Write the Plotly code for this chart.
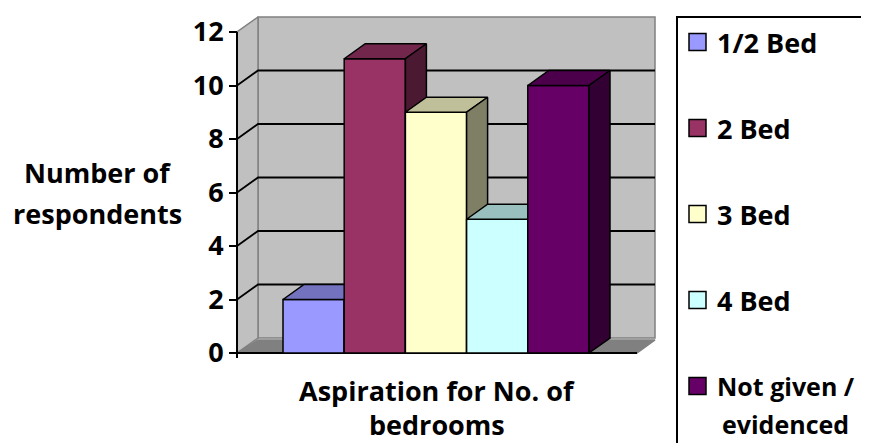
import plotly.graph_objects as go

# ---- data ----
series = ["1/2 Bed", "2 Bed", "3 Bed", "4 Bed", "Not given /<br>evidenced"]
legend_lines = [["1/2 Bed"], ["2 Bed"], ["3 Bed"], ["4 Bed"], ["Not given /", "evidenced"]]
values = [2, 11, 9, 5, 10]
colors = ["#9999FF", "#993366", "#FFFFCC", "#CCFFFF", "#660066"]
y_ticks = [0, 2, 4, 6, 8, 10, 12]
x_title = ["Aspiration for No. of", "bedrooms"]
y_title = ["Number of", "respondents"]

# ---- geometry ----
VW, VH, OFF = 869, 443, 8                 # viewport and body margin
W, H = VW - OFF, VH - OFF
PL, PR, PT, PB = 200, 660, 10, 362       # plot area in viewport pixels
BAR0_C, BAR_W = 313.6, 61.2              # bar 0 centre px, px per bar
Y0, Y_UNIT = 353.0, 26.75                 # px of value 0, px per unit
def dx_px(p): return p / BAR_W
def dy_px(p): return p / Y_UNIT
X_RANGE = [(PL - BAR0_C) / BAR_W, (PR - BAR0_C) / BAR_W]
Y_RANGE = [(Y0 - PB) / Y_UNIT, (Y0 - PT) / Y_UNIT]
DX, DY = dx_px(21), dy_px(15)
X_FRONT_L = (237 - BAR0_C) / BAR_W
X_FRONT_R = (637 - BAR0_C) / BAR_W
X_BACK_L = X_FRONT_L + DX
X_BACK_R = (655 - BAR0_C) / BAR_W
YMAX = y_ticks[-1]

def shade(hexc, f):
    h = hexc.lstrip("#")
    r, g, b = int(h[0:2], 16), int(h[2:4], 16), int(h[4:6], 16)
    return "#%02X%02X%02X" % (int(r * f), int(g * f), int(b * f))

def poly(xs, ys, fill, line="black", lw=1.5):
    return go.Scatter(x=xs + [xs[0]], y=ys + [ys[0]], mode="lines", fill="toself",
                      fillcolor=fill, line=dict(color=line, width=lw),
                      hoverinfo="skip", showlegend=False)

def seg(xs, ys, color="black", lw=1.5):
    return go.Scatter(x=xs, y=ys, mode="lines", line=dict(color=color, width=lw),
                      hoverinfo="skip", showlegend=False)

fig = go.Figure()
WALL, EDGE, FLOOR = "#C0C0C0", "#808080", "#808080"

# back wall
fig.add_trace(poly([X_BACK_L, X_BACK_R, X_BACK_R, X_BACK_L],
                   [DY, DY, YMAX + DY, YMAX + DY], WALL, EDGE, 1.5))
# left wall
fig.add_trace(poly([X_FRONT_L, X_BACK_L, X_BACK_L, X_FRONT_L],
                   [0, DY, YMAX + DY, YMAX], WALL, EDGE, 1.5))
# floor
fig.add_trace(poly([X_FRONT_L, X_FRONT_R, X_BACK_R, X_BACK_L],
                   [0, 0, dy_px(13), dy_px(13)], FLOOR, EDGE, 1.5))
# gridlines
for v in y_ticks[1:-1]:
    fig.add_trace(seg([X_FRONT_L, X_BACK_L, X_BACK_R], [v, v + DY, v + DY], "black", 1.8))

# floor front edge
fig.add_trace(seg([X_FRONT_L, X_FRONT_R], [0, 0], "black", 2))

# bars
for i, (v, c) in enumerate(zip(values, colors)):
    l, r = i - 0.5, i + 0.5
    fig.add_trace(poly([l, r, r, l], [0, 0, v, v], c))
    fig.add_trace(poly([l, r, r + DX, l + DX], [v, v, v + DY, v + DY], shade(c, 0.75)))
    fig.add_trace(poly([r, r + DX, r + DX, r], [0, DY, v + DY, v], shade(c, 0.5)))

# y axis line
fig.add_trace(seg([X_FRONT_L, X_FRONT_L], [dy_px(-5), YMAX], "black", 2))

FONT = "Open Sans"
FS = 27
def px_x(p): return (p - PL) / (PR - PL)
def px_y(p): return (PB - p) / (PB - PT)

ann = []
for txt, y in zip(y_title, [173, 213]):
    ann.append(dict(text="<b>%s</b>" % txt, x=px_x(97), y=px_y(y), xref="paper", yref="paper",
                    showarrow=False, xanchor="center", yanchor="middle",
                    font=dict(family=FONT, size=FS, color="black")))
for txt, y in zip(x_title, [391, 424]):
    ann.append(dict(text="<b>%s</b>" % txt, x=px_x(437), y=px_y(y), xref="paper", yref="paper",
                    showarrow=False, xanchor="center", yanchor="middle",
                    font=dict(family=FONT, size=FS, color="black")))

shapes = [dict(type="rect", xref="paper", yref="paper", x0=px_x(677), x1=px_x(900),
               y0=px_y(470), y1=px_y(17), line=dict(color="black", width=2),
               fillcolor="rgba(0,0,0,0)")]
leg_y = [42, 128, 214, 300, 386]
for lines, c, yc in zip(legend_lines, colors, leg_y):
    shapes.append(dict(type="rect", xref="paper", yref="paper", x0=px_x(689), x1=px_x(706),
                       y0=px_y(yc + 8.5), y1=px_y(yc - 8.5), line=dict(color="black", width=1.5),
                       fillcolor=c))
    fs = FS if len(lines) == 1 else 25
    for k, t in enumerate(lines):
        ann.append(dict(text="<b>%s</b>" % t, x=px_x(715 + 5 * k), y=px_y(yc + 38 * k),
                        xref="paper", yref="paper", showarrow=False, xanchor="left",
                        yanchor="middle", font=dict(family=FONT, size=fs, color="black")))

fig.update_layout(
    width=W, height=H, margin=dict(l=PL - OFF, r=VW - PR, t=PT - OFF, b=VH - PB),
    paper_bgcolor="white", plot_bgcolor="white", showlegend=False,
    xaxis=dict(range=X_RANGE, visible=False, fixedrange=True),
    yaxis=dict(range=Y_RANGE, anchor="free", position=px_x(237), side="left",
               tickvals=y_ticks, ticktext=["<b>%d</b>" % t for t in y_ticks],
               ticks="outside", ticklen=8, tickwidth=2, tickcolor="black",
               showgrid=False, zeroline=False, showline=False,
               tickfont=dict(family=FONT, size=FS, color="black")),
    annotations=ann, shapes=shapes,
)
fig.write_html("out.html")
